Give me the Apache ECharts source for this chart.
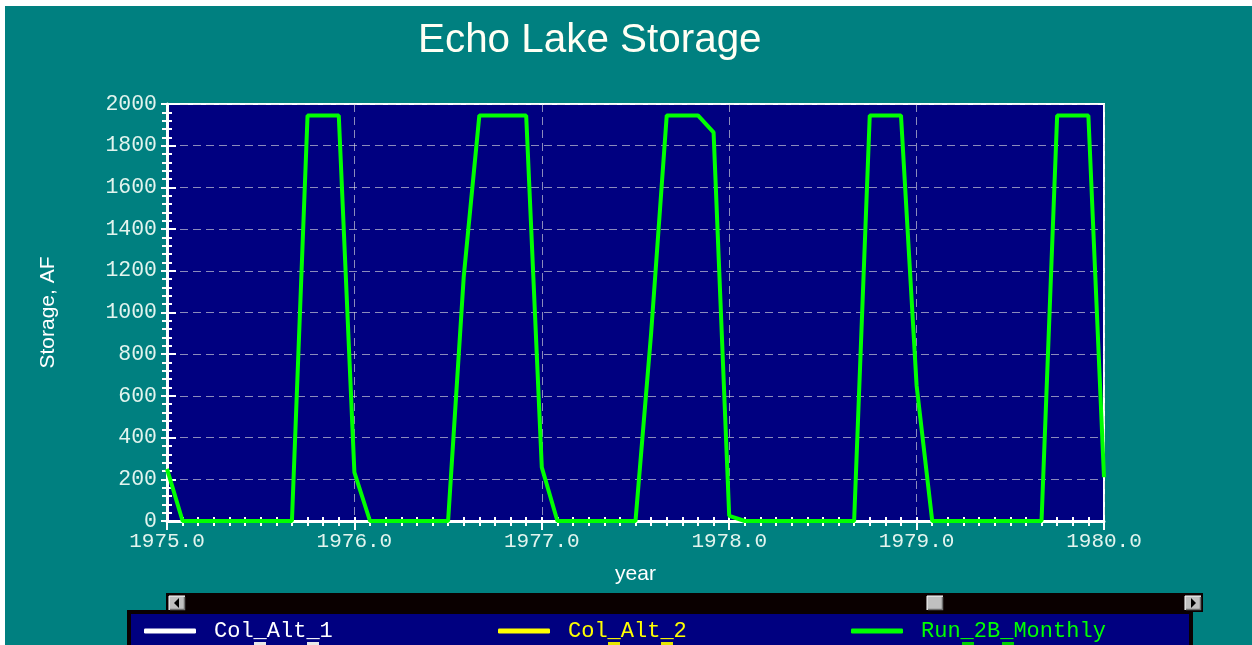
<!DOCTYPE html>
<html>
<head>
<meta charset="utf-8">
<script src="https://cdn.jsdelivr.net/npm/echarts@6/dist/echarts.min.js"></script>
<style>
  html, body { margin: 0; padding: 0; background: #ffffff; width: 1252px; height: 645px; overflow: hidden; }
  #bg { position: absolute; left: 5px; top: 6px; right: 0; bottom: 0; background: #008080; }
  #chart { position: absolute; left: 0; top: 0; width: 1252px; height: 645px; }
</style>
</head>
<body>
<div id="bg"></div>
<div id="chart"></div>
<script>
// ---- data ----
const yearLabels = ['1975.0', '1976.0', '1977.0', '1978.0', '1979.0', '1980.0'];
// monthly storage (AF), one value per month from 1975.0 through 1980.0
const run2bMonthly = [
  250, 0, 0, 0, 0, 0, 0, 0, 0, 1945, 1945, 1945,
  233, 0, 0, 0, 0, 0, 0, 1170, 1945, 1945, 1945, 1945,
  257, 0, 0, 0, 0, 0, 0, 900, 1945, 1945, 1945, 1864,
  25, 0, 0, 0, 0, 0, 0, 0, 0, 1945, 1945, 1945,
  650, 0, 0, 0, 0, 0, 0, 0, 0, 1945, 1945, 1945,
  210
];
const colAlt1 = [];
const colAlt2 = [];
const seriesNames = ['Col_Alt_1', 'Col_Alt_2', 'Run_2B_Monthly'];
const seriesColors = ['#ffffff', '#ffff00', '#00ff00'];
const yTicks = { min: 0, max: 2000, interval: 200 };

// category list: each year label followed by 11 monthly slots
const categories = [];
yearLabels.forEach((y, i) => {
  categories.push(y);
  if (i < yearLabels.length - 1) {
    for (let m = 1; m < 12; m++) categories.push(y + '_m' + m);
  }
});

const monoFont = '"Liberation Mono", "Courier New", monospace';
const sansFont = '"Liberation Sans", Arial, sans-serif';
const labelColor = '#e2f4ee';
const gridDash = { color: 'rgba(225,225,225,0.62)', width: 1, type: [8, 5] };

const chart = echarts.init(document.getElementById('chart'), null, { renderer: 'canvas' });

function legendFor(i, left) {
  return {
    data: [seriesNames[i]],
    left: left, top: 620,
    orient: 'horizontal',
    icon: 'roundRect',
    itemWidth: 52, itemHeight: 5,
    padding: 0,
    selectedMode: false,
    textStyle: { color: seriesColors[i], fontFamily: monoFont, fontSize: 22, padding: [0, 0, 0, 13] },
    z: 10
  };
}

function scrollButton(x, kind) {
  const y = 596, w = 16, h = 14;
  const els = [
    { type: 'rect', shape: { x: x, y: y, width: w, height: h }, style: { fill: '#c0c0c0' } },
    { type: 'polyline', shape: { points: [[x, y + h], [x, y], [x + w, y]] }, style: { stroke: '#ffffff', lineWidth: 1, fill: null } },
    { type: 'polyline', shape: { points: [[x + 1, y + h - 0.5], [x + w - 0.5, y + h - 0.5], [x + w - 0.5, y + 1]] }, style: { stroke: '#707070', lineWidth: 1.5, fill: null } }
  ];
  if (kind === 'left') {
    els.push({ type: 'polygon', shape: { points: [[x + 5, y + 7], [x + 10, y + 2], [x + 10, y + 12]] }, style: { fill: '#000000' } });
  } else if (kind === 'right') {
    els.push({ type: 'polygon', shape: { points: [[x + 11, y + 7], [x + 6, y + 2], [x + 6, y + 12]] }, style: { fill: '#000000' } });
  }
  return els;
}

const graphics = [
  // scroll bar
  { type: 'rect', shape: { x: 166, y: 593, width: 1037, height: 19 }, style: { fill: '#0a0000' }, z: 1 },
  // legend box
  { type: 'rect', shape: { x: 129, y: 612, width: 1062, height: 50 }, style: { fill: '#000080', stroke: '#0a0000', lineWidth: 4 }, z: 1 },
  // small boxes cut at bottom edge under each legend entry
  { type: 'rect', shape: { x: 254, y: 642, width: 12, height: 6 }, style: { fill: '#e8e8e8' }, z: 2 },
  { type: 'rect', shape: { x: 307, y: 642, width: 12, height: 6 }, style: { fill: '#e8e8e8' }, z: 2 },
  { type: 'rect', shape: { x: 608, y: 642, width: 12, height: 6 }, style: { fill: '#e6e600' }, z: 2 },
  { type: 'rect', shape: { x: 661, y: 642, width: 12, height: 6 }, style: { fill: '#e6e600' }, z: 2 },
  { type: 'rect', shape: { x: 962, y: 642, width: 12, height: 6 }, style: { fill: '#00d000' }, z: 2 },
  { type: 'rect', shape: { x: 1002, y: 642, width: 12, height: 6 }, style: { fill: '#00d000' }, z: 2 }
].concat(scrollButton(169, 'left'), scrollButton(927, 'thumb'), scrollButton(1185, 'right')).map(e => Object.assign({ z: 2 }, e));

const baseX = {
  type: 'category', data: categories, boundaryGap: false, position: 'bottom',
  axisLabel: { show: false }, splitLine: { show: false }, axisLine: { show: false }
};
const baseY = {
  type: 'value', min: yTicks.min, max: yTicks.max, interval: yTicks.interval, position: 'left',
  axisLabel: { show: false }, splitLine: { show: false }, axisLine: { show: false }
};

const option = {
  backgroundColor: 'transparent',
  animation: false,
  title: {
    text: 'Echo Lake Storage',
    left: 418, top: 21, padding: 0,
    textStyle: { color: '#fffff4', fontFamily: sansFont, fontSize: 40.4, fontWeight: 'normal' }
  },
  grid: {
    left: 167, right: 148, top: 104, bottom: 124,
    show: true, backgroundColor: '#000080', borderColor: '#ffffff', borderWidth: 2
  },
  legend: [legendFor(0, 144), legendFor(1, 498), legendFor(2, 851)],
  xAxis: [
    Object.assign({}, baseX, {
      name: 'year', nameLocation: 'middle', nameGap: 43,
      nameTextStyle: { color: '#ffffff', fontFamily: sansFont, fontSize: 21 },
      axisLine: { show: true, lineStyle: { color: '#ffffff', width: 3 } },
      axisTick: { show: true, interval: 0, length: 5, lineStyle: { color: '#ffffff', width: 2 } },
      axisLabel: { show: true, interval: 11, margin: 10, color: labelColor, fontFamily: monoFont, fontSize: 21,
        formatter: v => (yearLabels.indexOf(v) >= 0 ? v : '') },
      splitLine: { show: true, interval: 11, lineStyle: gridDash }
    }),
    Object.assign({}, baseX, {
      axisTick: { show: true, interval: 11, length: 9, lineStyle: { color: '#ffffff', width: 2 } }
    }),
    Object.assign({}, baseX, {
      axisTick: { show: true, inside: true, interval: 0, length: 4, lineStyle: { color: '#ffffff', width: 2 } }
    })
  ],
  yAxis: [
    Object.assign({}, baseY, {
      name: 'Storage, AF', nameLocation: 'middle', nameGap: 108, nameRotate: 90,
      nameTextStyle: { color: '#ffffff', fontFamily: sansFont, fontSize: 21 },
      axisLine: { show: true, lineStyle: { color: '#ffffff', width: 3 } },
      axisTick: { show: true, length: 6, lineStyle: { color: '#ffffff', width: 2 } },
      minorTick: { show: true, splitNumber: 5, length: 5, lineStyle: { color: '#ffffff', width: 2 } },
      axisLabel: { show: true, margin: 10, color: labelColor, fontFamily: monoFont, fontSize: 21.5,
        formatter: v => String(v) },
      splitLine: { show: true, lineStyle: gridDash }
    }),
    Object.assign({}, baseY, {
      axisTick: { show: true, inside: true, length: 9, lineStyle: { color: '#ffffff', width: 2 } },
      minorTick: { show: true, splitNumber: 5, length: 5, lineStyle: { color: '#ffffff', width: 2 } }
    })
  ],
  series: [
    { name: seriesNames[0], type: 'line', data: colAlt1, color: seriesColors[0], showSymbol: false, lineStyle: { width: 4 } },
    { name: seriesNames[1], type: 'line', data: colAlt2, color: seriesColors[1], showSymbol: false, lineStyle: { width: 4 } },
    { name: seriesNames[2], type: 'line', data: run2bMonthly, color: seriesColors[2], showSymbol: false,
      lineStyle: { width: 4, color: '#00ff00' }, z: 5 }
  ],
  graphic: graphics
};
chart.setOption(option);
</script>
</body>
</html>
